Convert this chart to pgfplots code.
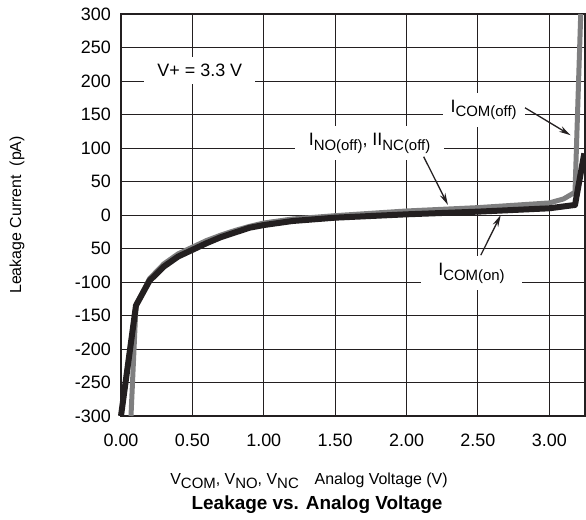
\documentclass[border=0pt]{standalone}
\usepackage{pgfplots}
\pgfplotsset{compat=1.18}
\usetikzlibrary{arrows.meta}
\usepackage{fontspec}
\setmainfont{Liberation Sans}
\newcommand\sub[1]{\raisebox{-0.5ex}{\fontsize{15}{15}\selectfont #1}}
\definecolor{ink}{HTML}{231F20}
\definecolor{grayline}{HTML}{7F7F80}
\begin{document}
\fontsize{18}{21}\selectfont
\begin{tikzpicture}[x=1bp,y=1bp]
\path[use as bounding box] (-121,-104) rectangle (465,416);
\begin{axis}[
  at={(0,0)}, anchor=south west,
  scale only axis, width=464bp, height=402bp,
  xmin=0, xmax=3.25, ymin=-300, ymax=300,
  xtick={0,0.5,1,1.5,2,2.5,3},
  xticklabels={0.00,0.50,1.00,1.50,2.00,2.50,3.00},
  ytick={-300,-250,-200,-150,-100,-50,0,50,100,150,200,250,300},
  yticklabels={-300,-250,-200,-150,-100,50,0,50,100,150,200,250,300},
  major tick length=0pt,
  grid=major,
  major grid style={ink, line width=0.9bp},
  axis line style={ink, line width=2.5bp},
  tick label style={font=\fontsize{18}{20}\selectfont},
  xticklabel style={yshift=-12bp},
  yticklabel style={xshift=-4bp},
  clip=false,
]
\addplot[grayline, line width=5bp, line join=round] coordinates {
(0.07,-300) (0.105,-135) (0.2,-95) (0.3,-73) (0.4,-58) (0.5,-48) (0.6,-38) (0.7,-30) (0.8,-23) (0.9,-17) (1.0,-12) (1.2,-6) (1.5,-1) (2.0,6) (2.5,11) (3.0,18) (3.1,24) (3.18,34) (3.22,300)
};
\addplot[ink, line width=6bp, line join=round] coordinates {
(0,-300) (0.105,-135) (0.2,-98) (0.3,-77) (0.4,-62) (0.5,-52) (0.6,-42) (0.7,-33) (0.8,-26) (0.9,-19) (1.0,-15) (1.2,-9) (1.5,-4) (2.0,1) (2.5,5) (3.0,10) (3.18,15) (3.245,92)
};
\node[fill=white, inner xsep=13bp, inner ysep=7bp] at (axis cs:0.552,216) {V+ = 3.3 V};
\node[fill=white, inner xsep=14bp, inner ysep=7bp] at (axis cs:1.741,107) {I\sub{NO(off)}, II\sub{NC(off)}};
\node[fill=white, inner xsep=8bp, inner ysep=7bp] at (axis cs:2.54,157) {I\sub{COM(off)}};
\node[fill=white, inner xsep=17bp, inner ysep=7bp] at (axis cs:2.455,-87) {I\sub{COM(on)}};
\draw[ink, line width=1.3bp, -{Stealth[length=12bp,width=6bp]}] (axis cs:2.83,160) -- (axis cs:3.15,119);
\draw[ink, line width=1.3bp, -{Stealth[length=12bp,width=6bp]}] (axis cs:2.12,87) -- (axis cs:2.29,15);
\draw[ink, line width=1.3bp, -{Stealth[length=12bp,width=6bp]}] (axis cs:2.52,-60) -- (axis cs:2.66,0);
\end{axis}
\node[rotate=90, font=\fontsize{16}{18}\selectfont] at (-104,201) {Leakage Current\ \ (pA)};
\node[font=\fontsize{16}{18}\selectfont] at (188,-65) {V\sub{COM}, V\sub{NO}, V\sub{NC}\quad Analog Voltage (V)};
\node[font=\fontsize{19}{21}\selectfont\bfseries] at (196,-89) {Leakage vs. Analog Voltage};
\end{tikzpicture}
\end{document}
